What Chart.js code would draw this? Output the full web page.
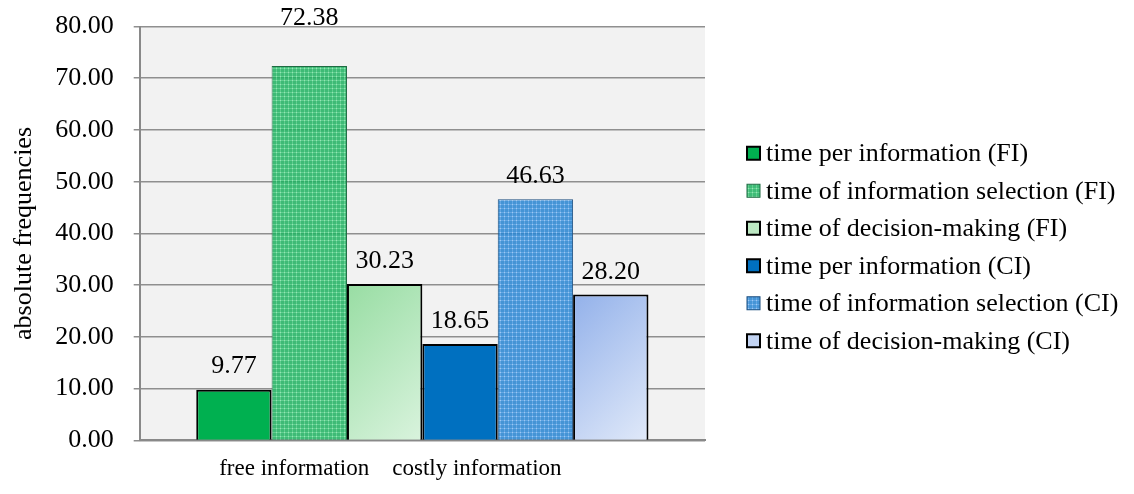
<!DOCTYPE html>
<html>
<head>
<meta charset="utf-8">
<script src="https://cdn.jsdelivr.net/npm/chart.js@4/dist/chart.umd.min.js"></script>
<style>
  html, body { margin: 0; padding: 0; background: #fff; }
  #wrap { width: 1134px; height: 494px; }
</style>
</head>
<body>
<div id="wrap"><canvas id="chart_1" width="1134" height="494"></canvas></div>
<script>
const categories = ['free information', 'costly information'];
const seriesNames = [
  'time per information (FI)',
  'time of information selection (FI)',
  'time of decision-making (FI)',
  'time per information (CI)',
  'time of information selection (CI)',
  'time of decision-making (CI)'
];
const seriesValues = [9.77, 72.38, 30.23, 18.65, 46.63, 28.20];
const yTicks = [0, 10, 20, 30, 40, 50, 60, 70, 80];

const serif = "'Liberation Serif', 'Times New Roman', serif";

function makePattern(base, line, cross) {
  const c = document.createElement('canvas');
  c.width = 4; c.height = 4;
  const g = c.getContext('2d');
  g.fillStyle = base; g.fillRect(0, 0, 4, 4);
  g.fillStyle = line; g.fillRect(0, 0, 4, 1); g.fillRect(0, 0, 1, 4);
  g.fillStyle = cross; g.fillRect(0, 0, 1, 1);
  return g.createPattern(c, 'repeat');
}

const greenPattern = makePattern('rgba(36,178,100,0.88)', 'rgba(100,210,146,0.9)', 'rgba(155,230,186,0.9)');
const bluePattern = makePattern('rgba(44,134,208,0.88)', 'rgba(104,170,230,0.9)', 'rgba(165,204,242,0.9)');

// per series look
const looks = [
  { fill: '#00b050', border: '#000', bw: 2 },
  { fill: greenPattern, border: '#1f6b43', bw: 1 },
  { fill: '#bde8c3', border: '#000', bw: 2, grad: ['#98dda3', '#d9f3dd'] },
  { fill: '#0070c0', border: '#000', bw: 2 },
  { fill: bluePattern, border: '#1d4f80', bw: 1 },
  { fill: '#c2d3f2', border: '#000', bw: 2, grad: ['#93b1ea', '#e0e9f9'] }
];

// how far above the bar top each value label sits
const labelLift = [17, 41, 16, 16, 16, 16];

const plotBg = {
  id: 'plotBg',
  beforeDraw(chart) {
    const { ctx, chartArea: a } = chart;
    ctx.save();
    ctx.fillStyle = '#f2f2f2';
    ctx.fillRect(a.left, a.top, a.right - a.left, a.bottom - a.top);
    ctx.restore();
  }
};

// 45 degree gradient over each bar, dark at top-left
const barGradients = {
  id: 'barGradients',
  beforeDatasetsDraw(chart) {
    const { ctx } = chart;
    chart.data.datasets.forEach((ds, i) => {
      const look = looks[i];
      if (!look.grad) return;
      chart.getDatasetMeta(i).data.forEach(el => {
        const l = el.x - el.width / 2;
        const h = el.base - el.y;
        const d = (el.width + h) / 2;
        const g = ctx.createLinearGradient(l, el.y, l + d, el.y + d);
        g.addColorStop(0, look.grad[0]);
        g.addColorStop(1, look.grad[1]);
        el.options.backgroundColor = g;
      });
    });
  }
};

const valueLabels = {
  id: 'valueLabels',
  afterDatasetsDraw(chart) {
    const { ctx } = chart;
    ctx.save();
    ctx.font = '26px ' + serif;
    ctx.fillStyle = '#000';
    ctx.textAlign = 'center';
    ctx.textBaseline = 'alphabetic';
    chart.data.datasets.forEach((ds, i) => {
      chart.getDatasetMeta(i).data.forEach((el, j) => {
        ctx.fillText(ds.data[j].toFixed(2), el.x, el.y - labelLift[i]);
      });
    });
    ctx.restore();
  }
};

const sideLegend = {
  id: 'sideLegend',
  afterDraw(chart) {
    const { ctx, chartArea } = chart;
    const x = chartArea.right + 42;
    const rowH = 37.5;
    const mid = chart.height / 2;
    ctx.save();
    ctx.font = '26px ' + serif;
    ctx.textBaseline = 'middle';
    ctx.textAlign = 'left';
    chart.data.datasets.forEach((ds, i) => {
      const look = looks[i];
      const y = mid + (i - 2.5) * rowH;
      ctx.fillStyle = look.fill;
      ctx.fillRect(x, y - 6.5, 13, 13);
      ctx.strokeStyle = look.border;
      ctx.lineWidth = look.bw;
      ctx.strokeRect(x, y - 6.5, 13, 13);
      ctx.fillStyle = '#000';
      ctx.fillText(ds.label, x + 19, y + 1);
    });
    ctx.restore();
  }
};

const datasets = seriesNames.map((name, i) => ({
  label: name,
  data: [seriesValues[i]],
  backgroundColor: looks[i].fill,
  borderColor: looks[i].border,
  borderWidth: looks[i].bw
}));

new Chart(document.getElementById('chart_1'), {
  type: 'bar',
  data: {
    labels: [categories.join('    ')],
    datasets: datasets
  },
  plugins: [plotBg, barGradients, valueLabels, sideLegend],
  options: {
    responsive: false,
    animation: false,
    devicePixelRatio: 1,
    layout: { padding: { left: 0, top: 24.5, right: 429, bottom: 4 } },
    datasets: {
      bar: { categoryPercentage: 0.8, barPercentage: 1.0 }
    },
    plugins: {
      legend: { display: false },
      tooltip: { enabled: false }
    },
    scales: {
      x: {
        grid: { display: false },
        border: { display: true, color: '#898989', width: 2 },
        ticks: {
          color: '#000',
          font: { family: serif, size: 23 },
          padding: 7,
          labelOffset: -32,
          maxRotation: 0
        }
      },
      y: {
        min: yTicks[0],
        max: yTicks[yTicks.length - 1],
        afterBuildTicks(scale) {
          scale.ticks = yTicks.map(v => ({ value: v }));
        },
        grid: { color: '#8f8f8f', lineWidth: 1.5, tickLength: 6 },
        border: { display: true, color: '#898989', width: 2 },
        ticks: {
          color: '#000',
          font: { family: serif, size: 26, lineHeight: 0.5 },
          padding: 20,
          callback: v => Number(v).toFixed(2)
        },
        title: {
          display: true,
          text: 'absolute frequencies',
          color: '#000',
          font: { family: serif, size: 26 },
          padding: { top: 9, bottom: -5 }
        }
      }
    }
  }
});
</script>
</body>
</html>
